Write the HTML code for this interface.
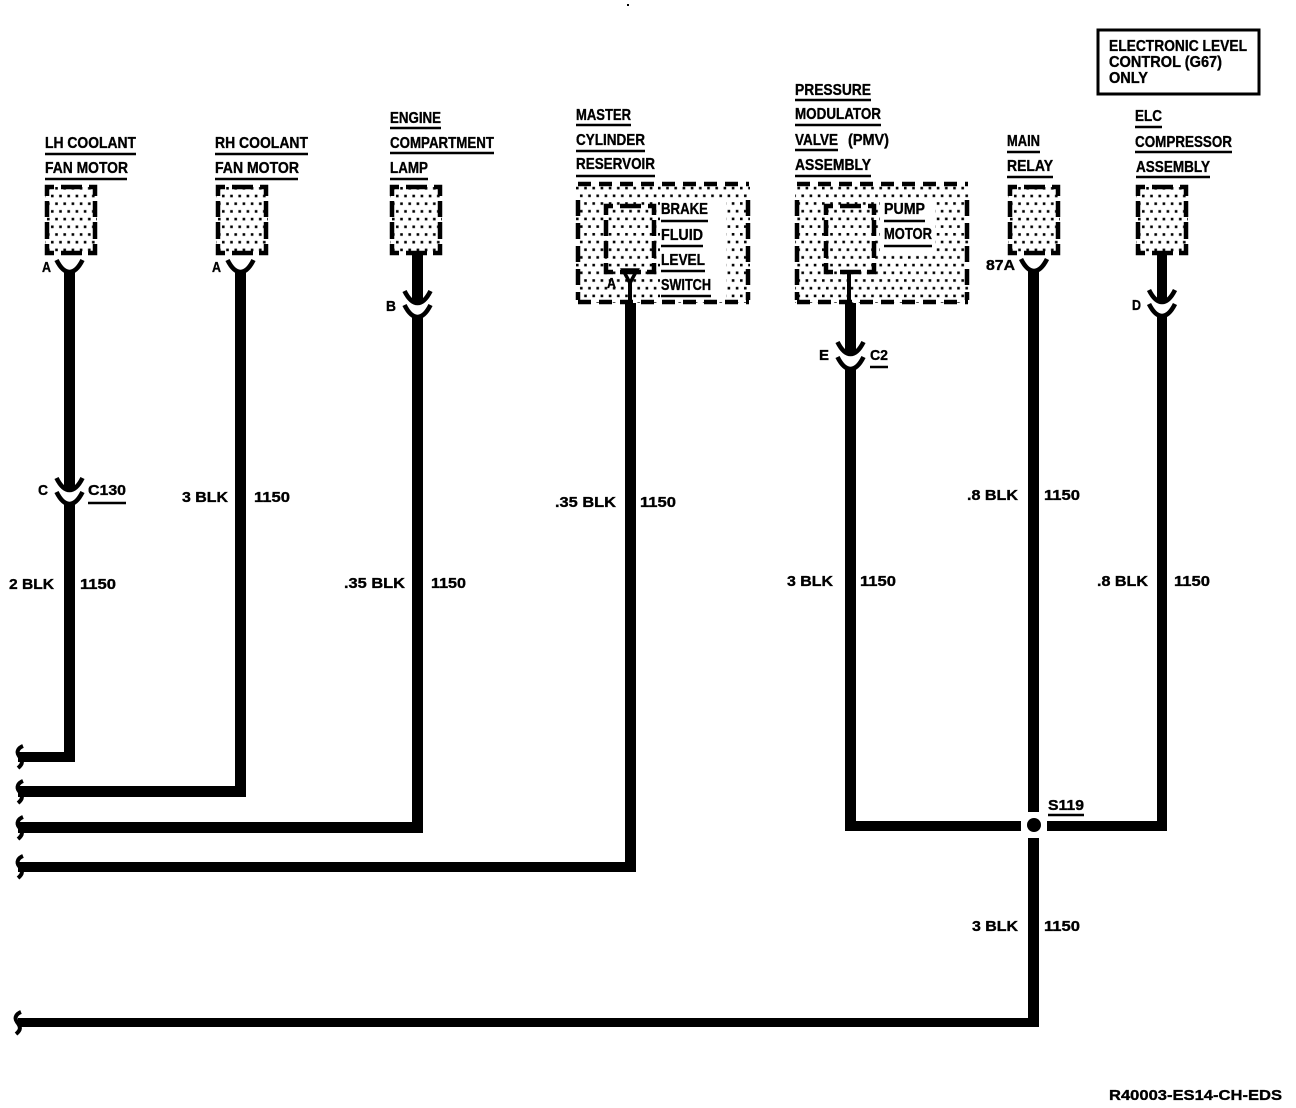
<!DOCTYPE html>
<html><head><meta charset="utf-8"><style>
html,body{margin:0;padding:0;background:#fff}
svg{display:block}
text{font-family:"Liberation Sans",sans-serif;font-weight:700;font-size:16px;fill:#000;stroke:#000;stroke-width:.35}
.s{font-size:15px}
</style></head><body>
<svg width="1296" height="1108" viewBox="0 0 1296 1108" xmlns="http://www.w3.org/2000/svg">
<defs>
<pattern id="d" width="16.4" height="15.4" patternUnits="userSpaceOnUse">
<rect x="2" y="2" width="2.6" height="2.6"/><rect x="10.2" y="2" width="2.6" height="2.6"/>
<rect x="6" y="9.7" width="2.6" height="2.6"/><rect x="14.2" y="9.7" width="2.2" height="2.6"/>
<rect x="0" y="9.7" width=".4" height="2.6"/>
</pattern>
<path id="f" fill="none" stroke="#000" stroke-width="4.5" d="M2 11V2H9M16 2H37M44 2H50V11M2 16V32M50 16V32M2 37V54M50 37V54M2 59V68H9M16 68H37M43 68H50V59"/>
<g id="b">
<rect x="0" y="0" width="52" height="70" fill="url(#d)"/>
<use href="#f"/>
</g>
<path id="c" fill="none" stroke="#000" stroke-width="4.6" d="M-13 0C-9 8-5 12 0 12C5 12 9 8 13 0"/>
<path id="q" fill="none" stroke="#000" stroke-width="4" d="M4 0C-1 2-3 6 0 10C4 15 4 18-1 22"/>
</defs>
<rect width="1296" height="1108" fill="#fff"/>
<rect x="627" y="4" width="2" height="2"/>

<!-- note box -->
<rect x="1098" y="30" width="161" height="64" fill="none" stroke="#000" stroke-width="3"/>
<text x="1109" y="51" textLength="138" lengthAdjust="spacingAndGlyphs">ELECTRONIC LEVEL</text>
<text x="1109" y="67" textLength="113" lengthAdjust="spacingAndGlyphs">CONTROL (G67)</text>
<text x="1109" y="83" textLength="39" lengthAdjust="spacingAndGlyphs">ONLY</text>

<!-- small connector boxes -->
<use href="#b" x="45" y="185"/>
<use href="#b" x="216" y="185"/>
<use href="#b" x="390" y="185"/>
<use href="#b" x="1008" y="185"/>
<use href="#b" x="1136" y="185"/>

<!-- large boxes -->
<rect x="576" y="182" width="174" height="121" fill="url(#d)"/>
<rect x="660" y="199" width="66" height="99" fill="#fff"/>
<rect x="795" y="182" width="174" height="121" fill="url(#d)"/>
<rect x="880" y="200" width="55" height="52" fill="#fff"/>
<g fill="none" stroke="#000" stroke-width="4.5">
<path stroke-dasharray="13 8" d="M578 184H749M578 302H749M797 184H968M797 302H968"/>
<path stroke-dasharray="16 7" d="M578 200V300M748 200V300M797 200V300M967 200V300"/>
</g>
<use href="#f" x="604" y="204"/>
<use href="#f" x="824" y="204"/>

<!-- wires -->
<g fill="#000">
<rect x="64" y="270" width="11" height="220"/>
<path d="M64 503H75V762H18V752H64Z"/>
<path d="M235 270H246V797H18V786H235Z"/>
<rect x="412" y="254" width="11" height="48"/>
<path d="M412 316H423V833H18V822H412Z"/>
<path d="M625 303H636V872H18V862H625Z"/>
<rect x="628" y="283" width="4" height="21"/>
<rect x="847" y="272" width="4" height="32"/>
<rect x="845" y="303" width="11" height="50"/>
<rect x="845" y="368" width="11" height="463"/>
<rect x="845" y="821" width="176" height="10"/>
<rect x="1028" y="270" width="11" height="542"/>
<rect x="1028" y="838" width="11" height="189"/>
<rect x="18" y="1018" width="1021" height="9"/>
<rect x="1157" y="255" width="10" height="47"/>
<path d="M1157 315H1167V831H1047V821H1157Z"/>
<circle cx="1034" cy="825" r="7"/>
</g>

<!-- connector cups -->
<use href="#c" x="69.5" y="260"/>
<use href="#c" x="240.5" y="260"/>
<use href="#c" x="1034" y="259"/>
<use href="#c" x="69.5" y="478"/><use href="#c" x="69.5" y="492"/>
<use href="#c" x="417.5" y="291"/><use href="#c" x="417.5" y="305"/>
<use href="#c" x="850.5" y="342"/><use href="#c" x="850.5" y="357"/>
<use href="#c" x="1162" y="290"/><use href="#c" x="1162" y="304"/>
<path fill="none" stroke="#000" stroke-width="3.5" d="M623 270H637L630 283Z"/>

<!-- break marks -->
<use href="#q" x="19" y="746"/>
<use href="#q" x="19" y="781"/>
<use href="#q" x="19" y="817"/>
<use href="#q" x="19" y="856"/>
<use href="#q" x="17" y="1012"/>

<!-- underlines -->
<g fill="none" stroke="#000" stroke-width="2.4">
<path d="M45 154H136M45 179H127M215 154H308M215 179H298"/>
<path d="M390 128H441M390 153H494M390 179H428"/>
<path d="M576 125H631M576 151H645M576 176H655"/>
<path d="M795 100H871M795 125H881M795 150H838M795 176H871"/>
<path d="M661 221H708M661 246H703M661 271H705M661 296H711"/>
<path d="M884 221H925M884 246H932"/>
<path d="M1007 152H1040M1007 177H1053"/>
<path d="M1135 127H1162M1135 152H1232M1136 177H1210"/>
<path d="M88 503H126M870 367H888M1048 815H1084"/>
</g>

<!-- component labels -->
<text x="45" y="148" textLength="91" lengthAdjust="spacingAndGlyphs">LH COOLANT</text>
<text x="45" y="173" textLength="83" lengthAdjust="spacingAndGlyphs">FAN MOTOR</text>
<text x="215" y="148" textLength="93" lengthAdjust="spacingAndGlyphs">RH COOLANT</text>
<text x="215" y="173" textLength="84" lengthAdjust="spacingAndGlyphs">FAN MOTOR</text>
<text x="390" y="123" textLength="51" lengthAdjust="spacingAndGlyphs">ENGINE</text>
<text x="390" y="148" textLength="104" lengthAdjust="spacingAndGlyphs">COMPARTMENT</text>
<text x="390" y="173" textLength="38" lengthAdjust="spacingAndGlyphs">LAMP</text>
<text x="576" y="120" textLength="55" lengthAdjust="spacingAndGlyphs">MASTER</text>
<text x="576" y="145" textLength="69" lengthAdjust="spacingAndGlyphs">CYLINDER</text>
<text x="576" y="169" textLength="79" lengthAdjust="spacingAndGlyphs">RESERVOIR</text>
<text x="795" y="95" textLength="76" lengthAdjust="spacingAndGlyphs">PRESSURE</text>
<text x="795" y="119" textLength="86" lengthAdjust="spacingAndGlyphs">MODULATOR</text>
<text x="795" y="145" textLength="43" lengthAdjust="spacingAndGlyphs">VALVE</text>
<text x="848" y="145" textLength="41" lengthAdjust="spacingAndGlyphs">(PMV)</text>
<text x="795" y="170" textLength="76" lengthAdjust="spacingAndGlyphs">ASSEMBLY</text>
<text x="661" y="214" textLength="47" lengthAdjust="spacingAndGlyphs">BRAKE</text>
<text x="661" y="240" textLength="42" lengthAdjust="spacingAndGlyphs">FLUID</text>
<text x="661" y="265" textLength="44" lengthAdjust="spacingAndGlyphs">LEVEL</text>
<text x="661" y="290" textLength="50" lengthAdjust="spacingAndGlyphs">SWITCH</text>
<text x="884" y="214" textLength="41" lengthAdjust="spacingAndGlyphs">PUMP</text>
<text x="884" y="239" textLength="48" lengthAdjust="spacingAndGlyphs">MOTOR</text>
<text x="1007" y="146" textLength="33" lengthAdjust="spacingAndGlyphs">MAIN</text>
<text x="1007" y="171" textLength="46" lengthAdjust="spacingAndGlyphs">RELAY</text>
<text x="1135" y="121" textLength="27" lengthAdjust="spacingAndGlyphs">ELC</text>
<text x="1135" y="147" textLength="97" lengthAdjust="spacingAndGlyphs">COMPRESSOR</text>
<text x="1136" y="172" textLength="74" lengthAdjust="spacingAndGlyphs">ASSEMBLY</text>

<!-- pin and wire labels -->
<g>
<text class="s" x="42" y="272" textLength="9" lengthAdjust="spacingAndGlyphs">A</text>
<text class="s" x="212" y="272" textLength="9" lengthAdjust="spacingAndGlyphs">A</text>
<text class="s" x="386" y="311" textLength="10" lengthAdjust="spacingAndGlyphs">B</text>
<text class="s" x="607" y="288" textLength="9" lengthAdjust="spacingAndGlyphs">A</text>
<text class="s" x="986" y="270" textLength="29" lengthAdjust="spacingAndGlyphs">87A</text>
<text class="s" x="1132" y="310" textLength="9" lengthAdjust="spacingAndGlyphs">D</text>
<text class="s" x="38" y="495" textLength="10" lengthAdjust="spacingAndGlyphs">C</text>
<text class="s" x="88" y="495" textLength="38" lengthAdjust="spacingAndGlyphs">C130</text>
<text class="s" x="819" y="360" textLength="10" lengthAdjust="spacingAndGlyphs">E</text>
<text class="s" x="870" y="360" textLength="18" lengthAdjust="spacingAndGlyphs">C2</text>
<text class="s" x="1048" y="810" textLength="36" lengthAdjust="spacingAndGlyphs">S119</text>
<text class="s" x="9" y="589" textLength="45" lengthAdjust="spacingAndGlyphs">2 BLK</text>
<text class="s" x="80" y="589" textLength="36" lengthAdjust="spacingAndGlyphs">1150</text>
<text class="s" x="182" y="502" textLength="46" lengthAdjust="spacingAndGlyphs">3 BLK</text>
<text class="s" x="254" y="502" textLength="36" lengthAdjust="spacingAndGlyphs">1150</text>
<text class="s" x="344" y="588" textLength="61" lengthAdjust="spacingAndGlyphs">.35 BLK</text>
<text class="s" x="431" y="588" textLength="35" lengthAdjust="spacingAndGlyphs">1150</text>
<text class="s" x="555" y="507" textLength="61" lengthAdjust="spacingAndGlyphs">.35 BLK</text>
<text class="s" x="640" y="507" textLength="36" lengthAdjust="spacingAndGlyphs">1150</text>
<text class="s" x="787" y="586" textLength="46" lengthAdjust="spacingAndGlyphs">3 BLK</text>
<text class="s" x="860" y="586" textLength="36" lengthAdjust="spacingAndGlyphs">1150</text>
<text class="s" x="967" y="500" textLength="51" lengthAdjust="spacingAndGlyphs">.8 BLK</text>
<text class="s" x="1044" y="500" textLength="36" lengthAdjust="spacingAndGlyphs">1150</text>
<text class="s" x="1097" y="586" textLength="51" lengthAdjust="spacingAndGlyphs">.8 BLK</text>
<text class="s" x="1174" y="586" textLength="36" lengthAdjust="spacingAndGlyphs">1150</text>
<text class="s" x="972" y="931" textLength="46" lengthAdjust="spacingAndGlyphs">3 BLK</text>
<text class="s" x="1044" y="931" textLength="36" lengthAdjust="spacingAndGlyphs">1150</text>
<text class="s" x="1109" y="1100" textLength="173" lengthAdjust="spacingAndGlyphs">R40003-ES14-CH-EDS</text>
</g>
</svg>
</body></html>
